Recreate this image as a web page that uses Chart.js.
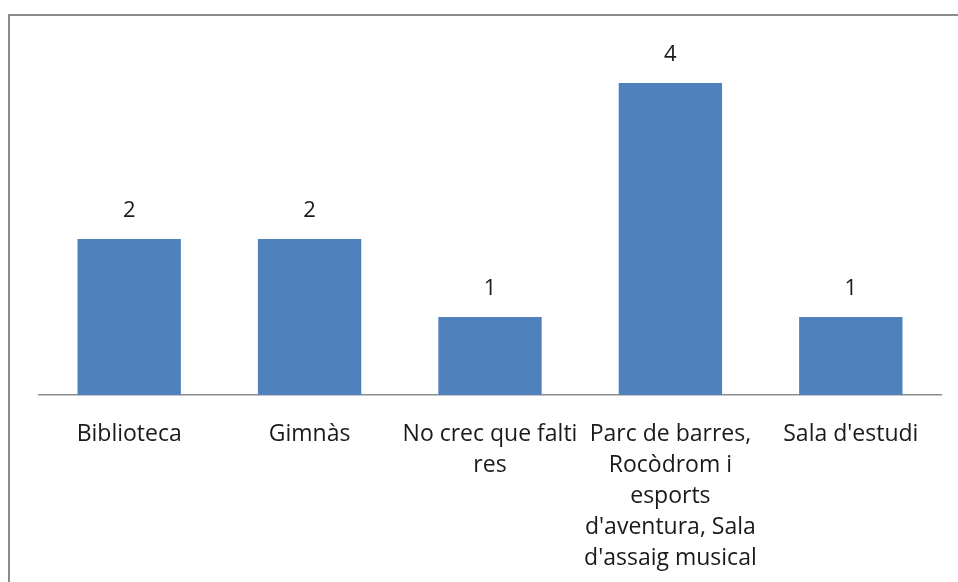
<!DOCTYPE html>
<html>
<head>
<meta charset="utf-8">
<script src="https://cdn.jsdelivr.net/npm/chart.js@4"></script>
<style>
  html, body { margin: 0; padding: 0; background: #fff; overflow: hidden; }
  #frame { position: absolute; left: 8px; top: 14px; width: 2000px; height: 2000px; border: 2px solid #8c8c8c; box-sizing: border-box; }
  #wrap { position: absolute; left: 0; top: 0; width: 958px; height: 582px; }
</style>
</head>
<body>
<div id="frame"></div>
<div id="wrap"><canvas id="chart"></canvas></div>
<script>
const categories = [
    ['Biblioteca'],
    ['Gimnàs'],
    ['No crec que falti', 'res'],
    ['Parc de barres,', 'Rocòdrom i', 'esports', "d'aventura, Sala", "d'assaig musical"],
    ["Sala d'estudi"]
];
const values = [2, 2, 1, 4, 1];

const fontFamily = '"Open Sans", sans-serif';

// draw the number above each bar
const valueLabels = {
    id: 'valueLabels',
    afterDatasetsDraw(chart) {
        const ctx = chart.ctx;
        const meta = chart.getDatasetMeta(0);
        ctx.save();
        ctx.font = '22px ' + fontFamily;
        ctx.fillStyle = '#1a1a1a';
        ctx.textAlign = 'center';
        ctx.textBaseline = 'middle';
        meta.data.forEach((bar, i) => {
            ctx.fillText(String(values[i]), bar.x, bar.y - 28);
        });
        ctx.restore();
    }
};

const ctx = document.getElementById('chart').getContext('2d');
new Chart(ctx, {
    type: 'bar',
    data: {
        labels: categories,
        datasets: [{
            data: values,
            backgroundColor: '#4f81bd',
            categoryPercentage: 1,
            barPercentage: 0.573
        }]
    },
    options: {
        responsive: true,
        maintainAspectRatio: false,
        animation: false,
        layout: { padding: { top: 44, left: 39, right: 17, bottom: 0 } },
        plugins: {
            legend: { display: false },
            tooltip: { enabled: false }
        },
        scales: {
            x: {
                grid: { display: false },
                border: { display: true, color: '#8c8c8c', width: 1.5 },
                ticks: {
                    color: '#1a1a1a',
                    maxRotation: 0,
                    autoSkip: false,
                    padding: 16,
                    font: { family: fontFamily, size: 23, lineHeight: 31 / 23 }
                },
                afterFit(scale) { scale.height = 187; }
            },
            y: {
                display: false,
                min: 0,
                max: 4.5
            }
        }
    },
    plugins: [valueLabels]
});
</script>
</body>
</html>
